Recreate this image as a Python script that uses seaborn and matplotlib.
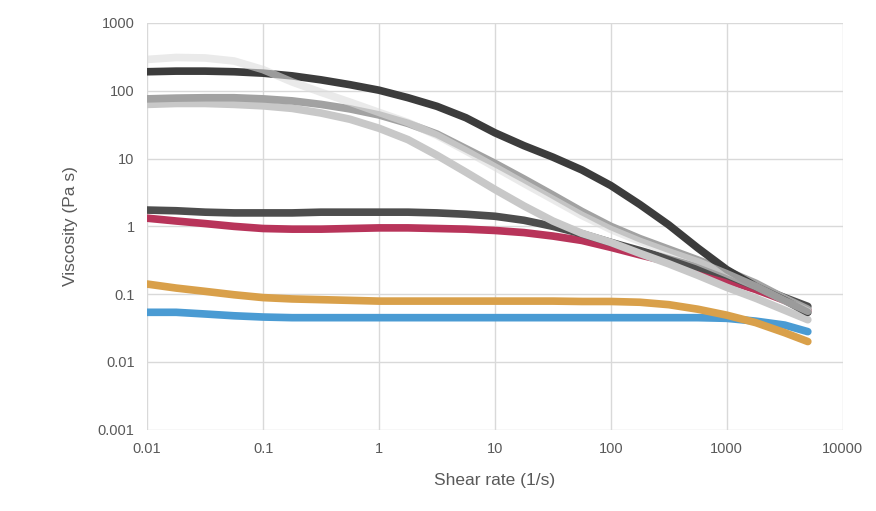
import pandas as pd
import matplotlib
matplotlib.use("Agg")
import matplotlib.pyplot as plt
import seaborn as sns

# Shear rates (1/s), quarter-decade steps, shared by all flow curves
shear_rate = [0.01, 0.0178, 0.0316, 0.0562, 0.1, 0.178, 0.316, 0.562,
              1, 1.78, 3.16, 5.62, 10, 17.8, 31.6, 56.2,
              100, 178, 316, 562, 1000, 1780, 3160, 5000]

# Viscosity (Pa s) for each sample
visc_dark = [191, 195, 195, 191, 182, 166, 145, 123,
             102, 79, 59, 40, 24, 15.5, 10.5, 6.8,
             4.0, 2.1, 1.05, 0.48, 0.23, 0.13, 0.081, 0.054]
visc_pale = [290, 310, 305, 275, 205, 135, 95, 68,
             48, 34, 22, 13, 7.5, 4.3, 2.5, 1.45,
             0.9, 0.6, 0.42, 0.30, 0.20, 0.13, 0.08, 0.056]
visc_mid_gray = [76, 78, 79, 79, 76, 71, 63, 54,
                 44, 33, 23, 14, 8.5, 5.0, 2.9, 1.66,
                 1.0, 0.66, 0.46, 0.32, 0.22, 0.145, 0.087, 0.060]
visc_light_gray = [63, 65, 65, 63, 60, 55, 47, 38,
                   28, 19, 11.2, 6.3, 3.5, 2.0, 1.2, 0.79,
                   0.58, 0.40, 0.28, 0.19, 0.126, 0.087, 0.058, 0.042]
visc_charcoal = [1.74, 1.70, 1.62, 1.58, 1.58, 1.58, 1.62, 1.62,
                 1.62, 1.62, 1.58, 1.51, 1.41, 1.23, 1.0, 0.78,
                 0.58, 0.44, 0.33, 0.25, 0.19, 0.13, 0.089, 0.066]
visc_crimson = [1.32, 1.20, 1.10, 1.0, 0.93, 0.91, 0.91, 0.93,
                0.95, 0.95, 0.93, 0.91, 0.87, 0.81, 0.72, 0.62,
                0.49, 0.38, 0.30, 0.22, 0.16, 0.117, 0.081, 0.058]
visc_orange = [0.141, 0.123, 0.110, 0.098, 0.089, 0.085, 0.083, 0.081,
               0.079, 0.079, 0.079, 0.079, 0.079, 0.079, 0.079, 0.078,
               0.078, 0.076, 0.070, 0.060, 0.049, 0.038, 0.027, 0.020]
visc_blue = [0.054, 0.054, 0.051, 0.048, 0.046, 0.045, 0.045, 0.045,
             0.045, 0.045, 0.045, 0.045, 0.045, 0.045, 0.045, 0.045,
             0.045, 0.045, 0.045, 0.045, 0.044, 0.040, 0.035, 0.028]

# Drawing order, bottom to top
samples = ["blue", "orange", "crimson", "charcoal", "light_gray", "mid_gray", "dark", "pale"]
values = {
    "blue": visc_blue,
    "orange": visc_orange,
    "crimson": visc_crimson,
    "charcoal": visc_charcoal,
    "light_gray": visc_light_gray,
    "mid_gray": visc_mid_gray,
    "dark": visc_dark,
    "pale": visc_pale,
}
palette = {
    "blue": "#4a9bd3",
    "orange": "#d9a04a",
    "crimson": "#b8345a",
    "charcoal": "#4d4d4d",
    "light_gray": "#c8c8c8",
    "mid_gray": "#a2a2a2",
    "dark": "#3c3c3c",
    "pale": "#dcdcdc",
}
alphas = {"pale": 0.6}

rows = []
for s in samples:
    for x, y in zip(shear_rate, values[s]):
        rows.append({"sample": s, "shear": x, "viscosity": y})
df = pd.DataFrame(rows)

sns.set_theme(style="white")
plt.rcParams["font.family"] = ["Liberation Sans", "DejaVu Sans"]

fig = plt.figure(figsize=(8.76, 5.11), dpi=100)
ax = fig.add_axes([0.168, 0.159, 0.794, 0.796])

for s in samples:
    sns.lineplot(data=df[df["sample"] == s], x="shear", y="viscosity",
                 color=palette[s], linewidth=5.5, ax=ax, legend=False,
                 alpha=alphas.get(s, 1.0),
                 solid_capstyle="round", solid_joinstyle="round", zorder=3)

ax.set_xscale("log")
ax.set_yscale("log")
ax.set_xlim(0.01, 10000)
ax.set_ylim(0.001, 1000)

x_ticks = [0.01, 0.1, 1, 10, 100, 1000, 10000]
x_labels = ["0.01", "0.1", "1", "10", "100", "1000", "10000"]
y_ticks = [0.001, 0.01, 0.1, 1, 10, 100, 1000]
y_labels = ["0.001", "0.01", "0.1", "1", "10", "100", "1000"]
ax.set_xticks(x_ticks)
ax.set_xticklabels(x_labels)
ax.set_yticks(y_ticks)
ax.set_yticklabels(y_labels)
ax.minorticks_off()

ax.grid(True, which="major", color="#d9d9d9", linewidth=1.0, zorder=0)
for sp in ax.spines.values():
    sp.set_visible(False)
ax.tick_params(axis="both", length=0, labelsize=10.5, colors="#595959", pad=9)

ax.set_xlabel("Shear rate (1/s)", fontsize=12.5, color="#595959", labelpad=12)
ax.set_ylabel("Viscosity (Pa s)", fontsize=12.5, color="#595959", labelpad=14)

fig.savefig("out.png", dpi=100)
